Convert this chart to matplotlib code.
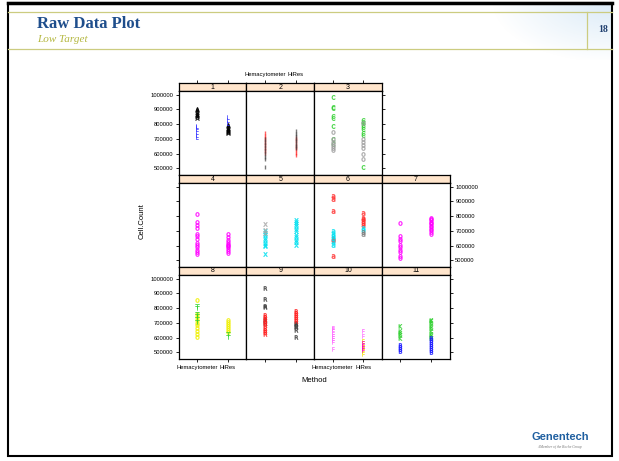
import matplotlib.pyplot as plt
import numpy as np
from matplotlib.patches import Rectangle

plt.rcParams["font.family"] = ["Liberation Sans", "DejaVu Sans"]

W, H = 619, 461

methods = ["Hemacytometer", "HiRes"]
panel_labels = [str(i) for i in range(1, 12)]
y_ticks = [500000, 600000, 700000, 800000, 900000, 1000000]

# cell counts per panel, one inner list per group
hema_1 = [[905000, 895000, 885000, 872000, 862000, 852000, 845000],
          [790000, 778000, 765000, 748000, 728000, 712000]]
hires_1 = [[795000, 786000, 777000, 768000, 760000, 752000, 745000, 738000],
           [848000, 828000, 808000]]

hema_2 = [[738000, 722000, 706000, 690000, 672000, 656000, 640000, 622000, 606000],
          [700000, 680000, 660000, 640000, 620000, 598000, 580000, 565000, 510000]]
hires_2 = [[706000, 690000, 672000, 655000, 640000, 622000, 605000, 590000],
           [752000, 735000, 718000, 702000, 685000, 668000, 652000, 638000]]

hema_3 = [[985000, 918000, 912000, 852000, 840000, 790000, 698000, 662000],
          [745000, 700000, 682000, 668000, 652000, 636000, 622000]]
hires_3 = [[830000, 818000, 806000, 795000, 780000, 766000, 742000, 726000, 510000],
           [810000, 698000, 678000, 660000, 640000, 596000, 562000]]

hema_4 = [[815000, 757000, 742000, 720000, 676000, 662000, 646000, 618000,
           602000, 588000, 572000, 556000, 540000]]
hires_4 = [[676000, 658000, 640000, 622000, 610000, 602000, 595000, 588000,
            580000, 565000, 552000]]

hema_5 = [[700000, 688000, 672000, 652000, 636000, 620000, 606000, 596000, 540000],
          [745000, 705000, 684000]]
hires_5 = [[775000, 762000, 748000, 732000, 716000, 700000, 672000, 656000,
            640000, 622000, 606000],
           []]

hema_6 = [[935000, 918000, 838000, 648000, 636000, 530000],
          [696000, 682000, 666000, 650000, 622000, 604000],
          []]
hires_6 = [[822000, 790000, 780000, 768000, 756000, 742000],
           [720000, 706000],
           [690000, 680000]]

hema_7 = [[752000, 662000, 648000, 632000, 606000, 590000, 572000, 556000,
           532000, 516000]]
hires_7 = [[790000, 781000, 772000, 763000, 754000, 745000, 736000, 726000,
            716000, 706000, 694000, 680000]]

hema_8 = [[855000, 762000, 742000, 722000, 702000, 684000, 664000, 642000,
           622000, 604000],
          [815000, 800000, 760000, 745000, 725000, 705000]]
hires_8 = [[718000, 704000, 690000, 676000, 662000, 650000, 640000],
           [625000, 605000]]

hema_9 = [[937000, 863000, 815000, 806000, 720000, 700000],
          [756000, 740000, 726000, 712000, 698000, 684000, 668000, 652000,
           636000, 622000]]
hires_9 = [[700000, 690000, 680000, 670000, 655000, 605000],
           [780000, 766000, 752000, 738000, 724000, 712000]]

hema_10 = [[668000, 656000, 642000, 628000, 614000, 600000, 586000, 572000, 520000],
           [],
           []]
hires_10 = [[645000, 612000],
            [578000, 562000, 548000, 534000, 520000, 506000, 490000],
            [565000, 545000, 530000, 515000]]

hema_11 = [[682000, 646000, 632000, 616000, 600000],
           [548000, 536000, 522000, 510000]]
hires_11 = [[722000, 710000, 696000, 682000, 664000, 646000, 628000, 612000, 600000],
            [600000, 586000, 572000, 558000, 544000, 530000, 516000, 502000]]

hema = [hema_1, hema_2, hema_3, hema_4, hema_5, hema_6,
        hema_7, hema_8, hema_9, hema_10, hema_11]
hires = [hires_1, hires_2, hires_3, hires_4, hires_5, hires_6,
         hires_7, hires_8, hires_9, hires_10, hires_11]

# plotting letter and colour for each group
marks = [
    [("A", "#000000"), ("L", "#3030ff")],
    [("I", "#ff2020"), ("I", "#404040")],
    [("C", "#30d030"), ("o", "#a0a0a0")],
    [("o", "#ff00ff")],
    [("x", "#00e0f0"), ("x", "#a8a8a8")],
    [("a", "#ff3030"), ("a", "#00e0f0"), ("a", "#808080")],
    [("o", "#ff00ff")],
    [("o", "#f0f000"), ("T", "#20d020")],
    [("R", "#404040"), ("R", "#ff2020")],
    [("F", "#ff66ff"), ("F", "#f0e000"), ("F", "#ff00cc")],
    [("K", "#30d030"), ("B", "#2020ff")],
]

COL_EDGES = [178.5, 246.3, 314.1, 381.9, 449.7]
ROW_TOP = [83, 175, 267]
STRIP_H = 8
PANEL_H = 84


def box(left, top, right, bottom):
    return [left / W, 1 - bottom / H, (right - left) / W, (bottom - top) / H]


fig = plt.figure(figsize=(W / 100, H / 100), dpi=100)

# slide background in pixel coordinates
bg = fig.add_axes([0, 0, 1, 1], zorder=-1)
bg.set_xlim(0, W)
bg.set_ylim(H, 0)
bg.axis("off")

gx, gy = np.meshgrid(np.linspace(490, 612, 130), np.linspace(3, 60, 60))
dist = np.sqrt(((gx - 612) / 120) ** 2 + ((gy - 3) / 60) ** 2)
glow = np.zeros(gx.shape + (4,))
glow[..., :3] = [0.80, 0.89, 0.96]
glow[..., 3] = np.clip(1 - dist, 0, 1) * 0.7
bg.imshow(glow, extent=[490, 612, 60, 3], aspect="auto", interpolation="bilinear")

bg.add_patch(Rectangle((8, 3), 604, 453, fill=False, edgecolor="black", lw=1.5))
bg.plot([8, 612], [3, 3], color="black", lw=2.5)
bg.plot([8, 612], [12, 12], color="#cccc80", lw=0.9)
bg.plot([8, 612], [49, 49], color="#cccc80", lw=0.9)
bg.plot([587, 587], [12, 49], color="#cccc80", lw=0.9)

bg.text(37, 24, "Raw Data Plot", family="Liberation Serif", weight="bold",
        fontsize=12, color="#1f4e8c", va="center")
bg.text(37, 39, "Low Target", family="Liberation Serif", style="italic",
        fontsize=8, color="#b5b842", va="center")
bg.text(603, 30, "18", family="Liberation Serif", weight="bold",
        fontsize=7, color="#1f3f6f", ha="center", va="center")
bg.text(560, 437, "Genentech", weight="bold", fontsize=8,
        color="#1f5fa0", ha="center", va="center")
bg.text(560, 447, "A Member of the Roche Group", family="Liberation Serif",
        style="italic", fontsize=2.6, color="#777777", ha="center", va="center")

tick_kw = dict(direction="out", length=2.5, width=0.6, labelsize=4.2, pad=1.5)

for i, label in enumerate(panel_labels):
    if i < 3:
        row, col, last_col = 0, i, 2
    elif i < 7:
        row, col, last_col = 1, i - 3, 3
    else:
        row, col, last_col = 2, i - 7, 3

    top = ROW_TOP[row]
    left, right = COL_EDGES[col], COL_EDGES[col + 1]

    strip = fig.add_axes(box(left, top, right, top + STRIP_H))
    strip.set_facecolor("#ffe5cc")
    strip.set_xlim(0.4, 2.6)
    strip.set_ylim(0, 1)
    strip.set_yticks([])
    strip.text(0.5, 0.5, label, transform=strip.transAxes, ha="center",
               va="center", fontsize=5)
    for sp in strip.spines.values():
        sp.set_linewidth(0.9)
    if row == 0:
        strip.set_xticks([1, 2])
        strip.set_xticklabels(methods)
        strip.xaxis.tick_top()
        strip.tick_params(axis="x", labeltop=(col == 1), **tick_kw)
    else:
        strip.set_xticks([])

    ax = fig.add_axes(box(left, top + STRIP_H, right, top + STRIP_H + PANEL_H))
    for g, (letter, colour) in enumerate(marks[i]):
        sym = r"$\mathsf{" + letter + "}$"
        # narrow glyphs get a heavier stroke so they stay visible
        mew = 1.0 if letter == "I" else 0.4
        ax.plot([1] * len(hema[i][g]), hema[i][g], ls="none", marker=sym,
                ms=3.0, mew=mew, color=colour, alpha=0.7)
        ax.plot([2] * len(hires[i][g]), hires[i][g], ls="none", marker=sym,
                ms=3.0, mew=mew, color=colour, alpha=0.7)

    ax.set_xlim(0.4, 2.6)
    ax.set_ylim(455000, 1025000)
    for sp in ax.spines.values():
        sp.set_linewidth(0.9)

    ax.set_yticks(y_ticks)
    ax.set_yticklabels([str(v) for v in y_ticks])
    ax.tick_params(axis="y", left=(col == 0), right=(col == last_col),
                   labelleft=(col == 0 and row != 1),
                   labelright=(col == last_col and row == 1), **tick_kw)

    ax.set_xticks([1, 2])
    ax.set_xticklabels(methods)
    ax.tick_params(axis="x", bottom=(row == 2), labelbottom=(row == 2 and col in (0, 2)),
                   **tick_kw)

fig.text(142 / W, 1 - 221 / H, "Cell.Count", rotation=90, fontsize=5.5,
         ha="center", va="center")
fig.text(314 / W, 1 - 381 / H, "Method", fontsize=5.5, ha="center", va="center")

fig.savefig("out.png", dpi=100)
